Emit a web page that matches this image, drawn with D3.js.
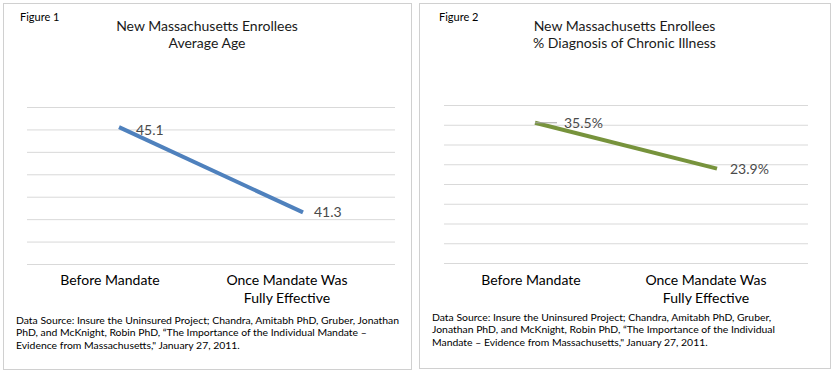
<!DOCTYPE html>
<html>
<head>
  <meta charset="utf-8">
  <script src="https://d3js.org/d3.v7.min.js"></script>
  <style>
    body { margin: 0; background: #fff; }
    svg text { font-family: Lato, "Open Sans", sans-serif; }
  </style>
</head>
<body>
<script>
  // categories shared by both figures
  var categories = [["Before Mandate"], ["Once Mandate Was", "Fully Effective"]];

  // figure 1: average age
  var ageValues = [45.1, 41.3];
  var ageTicks = [39, 40, 41, 42, 43, 44, 45, 46];
  var ageLabels = ["45.1", "41.3"];

  // figure 2: % diagnosis of chronic illness
  var chronicValues = [35.5, 23.9];
  var chronicTicks = [0, 5, 10, 15, 20, 25, 30, 35, 40];
  var chronicLabels = ["35.5%", "23.9%"];

  var sourceLeft = [
    "Data Source: Insure the Uninsured Project; Chandra, Amitabh PhD, Gruber, Jonathan",
    "PhD, and McKnight, Robin PhD, \u201cThe Importance of the Individual Mandate \u2013",
    "Evidence from Massachusetts,\" January 27, 2011."
  ];
  var sourceRight = [
    "Data Source: Insure the Uninsured Project; Chandra, Amitabh PhD, Gruber,",
    "Jonathan PhD, and McKnight, Robin PhD, \u201cThe Importance of the Individual",
    "Mandate \u2013 Evidence from Massachusetts,\" January 27, 2011."
  ];

  var svg = d3.select("body").append("svg")
      .attr("width", 836)
      .attr("height", 372);

  function drawPanel(p) {
    var g = svg.append("g");

    // outer frame
    g.append("rect")
      .attr("x", p.box[0] + 0.5).attr("y", p.box[1] + 0.5)
      .attr("width", p.box[2] - p.box[0]).attr("height", p.box[3] - p.box[1])
      .attr("fill", "#fff").attr("stroke", "#d0d0d0");

    g.append("text")
      .attr("x", p.box[0] + p.figX).attr("y", 21)
      .style("font-size", "11px").attr("fill", "#000")
      .text(p.figure);

    var cx = (p.box[0] + p.box[2]) / 2;
    g.selectAll(".title").data(p.title).enter().append("text")
      .attr("x", cx).attr("y", function(d, i) { return 31 + i * 17; })
      .attr("text-anchor", "middle")
      .style("font-size", "14px").attr("fill", "#1a1a1a")
      .text(function(d) { return d; });

    var x = d3.scalePoint().domain([0, 1]).range(p.xRange).padding(0.5);
    var y = d3.scaleLinear().domain(p.domain).range(p.yRange);

    // gridlines from the axis
    var axis = d3.axisLeft(y).tickValues(p.ticks).tickSize(-(p.xRange[1] - p.xRange[0])).tickFormat("");
    var ga = g.append("g").attr("transform", "translate(" + p.xRange[0] + ",0)").call(axis);
    ga.select(".domain").remove();
    ga.selectAll(".tick line").attr("stroke", "#d9d9d9");

    var line = d3.line().x(function(d, i) { return x(i); }).y(function(d) { return y(d); });
    g.append("path").datum(p.values)
      .attr("d", line)
      .attr("fill", "none")
      .attr("stroke", p.color)
      .attr("stroke-width", 4);

    if (p.leader) {
      g.append("line")
        .attr("x1", x(0)).attr("y1", y(p.values[0]))
        .attr("x2", x(0) + p.leader).attr("y2", y(p.values[0]))
        .attr("stroke", "#a6a6a6");
    }

    g.selectAll(".lbl").data(p.values).enter().append("text")
      .attr("x", function(d, i) { return x(i) + p.labelOff[i][0]; })
      .attr("y", function(d, i) { return y(d) + p.labelOff[i][1]; })
      .attr("dy", "0.35em")
      .style("font-size", "14px").attr("fill", "#4a4a4a")
      .text(function(d, i) { return p.labels[i]; });

    // category labels
    categories.forEach(function(lines, i) {
      lines.forEach(function(t, j) {
        g.append("text")
          .attr("x", x(i) + p.catShift[i]).attr("y", 285 + j * 18)
          .attr("text-anchor", "middle")
          .style("font-size", "14px").attr("fill", "#000")
          .text(t);
      });
    });

    g.selectAll(".src").data(p.source).enter().append("text")
      .attr("x", p.box[0] + 13).attr("y", function(d, i) { return p.srcY + i * 12.3; })
      .style("font-size", "10.4px").attr("fill", "#000")
      .text(function(d) { return d; });
  }

  drawPanel({
    box: [3, 3, 411, 369],
    figure: "Figure 1", figX: 17,
    title: ["New Massachusetts Enrollees", "Average Age"],
    xRange: [27, 395], yRange: [264, 107],
    domain: [39, 46], ticks: ageTicks,
    values: ageValues, labels: ageLabels,
    labelOff: [[17, 3], [11, 0]],
    color: "#4f81bd",
    catShift: [-9, -16],
    source: sourceLeft, srcY: 324
  });

  drawPanel({
    box: [419, 3, 830, 368],
    figure: "Figure 2", figX: 20,
    title: ["New Massachusetts Enrollees", "% Diagnosis of Chronic Illness"],
    xRange: [444, 808], yRange: [263, 105],
    domain: [0, 40], ticks: chronicTicks,
    values: chronicValues, labels: chronicLabels,
    labelOff: [[29, 0], [13, 1]],
    leader: 22,
    color: "#77933c",
    catShift: [-4, -11],
    source: sourceRight, srcY: 321
  });
</script>
</body>
</html>
